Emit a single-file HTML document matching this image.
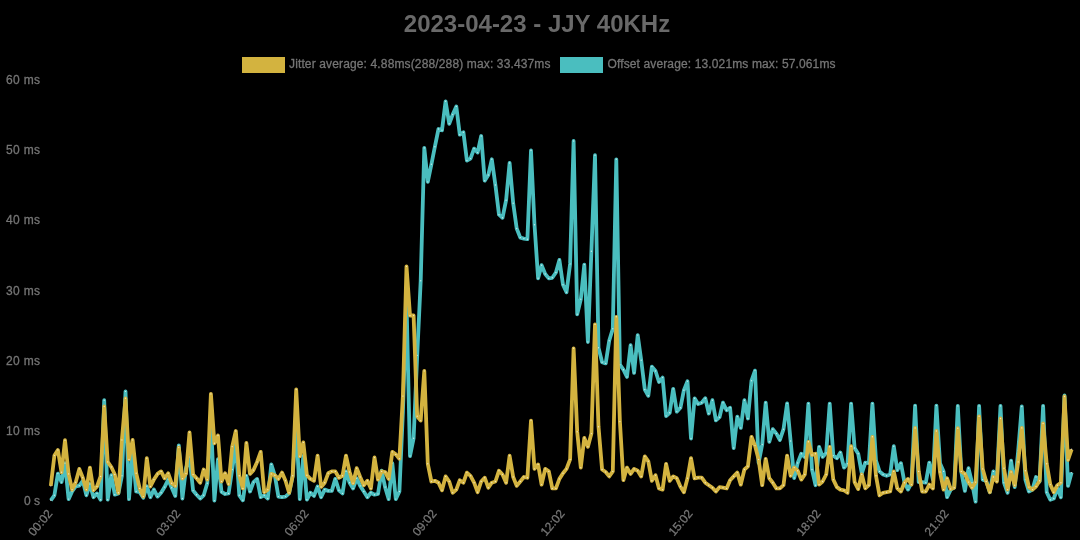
<!DOCTYPE html>
<html><head><meta charset="utf-8"><title>2023-04-23 - JJY 40KHz</title>
<style>html,body{margin:0;padding:0;background:#000;width:1080px;height:540px;overflow:hidden;font-family:"Liberation Sans",sans-serif}</style>
</head><body>
<svg width="1080" height="540" viewBox="0 0 1080 540" style="position:absolute;left:0;top:0;will-change:transform;opacity:0.999"><rect width="1080" height="540" fill="#000"/><text x="537" y="31.5" text-anchor="middle" font-family="Liberation Sans, sans-serif" font-weight="bold" font-size="24" fill="#6a6a6a">2023-04-23 - JJY 40KHz</text><rect x="242" y="57" width="43" height="16" fill="#d4b440"/><text x="289" y="68.3" font-family="Liberation Sans, sans-serif" font-size="12" fill="#767676" stroke="#767676" stroke-width="0.3" textLength="261.5" lengthAdjust="spacing">Jitter average: 4.88ms(288/288) max: 33.437ms</text><rect x="560" y="57" width="43" height="16" fill="#4bbfc0"/><text x="607.5" y="68.3" font-family="Liberation Sans, sans-serif" font-size="12" fill="#767676" stroke="#767676" stroke-width="0.3" textLength="228" lengthAdjust="spacing">Offset average: 13.021ms max: 57.061ms</text><text x="40" y="83.8" text-anchor="end" font-family="Liberation Sans, sans-serif" font-size="12" fill="#767676" stroke="#767676" stroke-width="0.3" textLength="34" lengthAdjust="spacing">60 ms</text><text x="40" y="154.3" text-anchor="end" font-family="Liberation Sans, sans-serif" font-size="12" fill="#767676" stroke="#767676" stroke-width="0.3" textLength="34" lengthAdjust="spacing">50 ms</text><text x="40" y="224.3" text-anchor="end" font-family="Liberation Sans, sans-serif" font-size="12" fill="#767676" stroke="#767676" stroke-width="0.3" textLength="34" lengthAdjust="spacing">40 ms</text><text x="40" y="294.8" text-anchor="end" font-family="Liberation Sans, sans-serif" font-size="12" fill="#767676" stroke="#767676" stroke-width="0.3" textLength="34" lengthAdjust="spacing">30 ms</text><text x="40" y="364.8" text-anchor="end" font-family="Liberation Sans, sans-serif" font-size="12" fill="#767676" stroke="#767676" stroke-width="0.3" textLength="34" lengthAdjust="spacing">20 ms</text><text x="40" y="435.3" text-anchor="end" font-family="Liberation Sans, sans-serif" font-size="12" fill="#767676" stroke="#767676" stroke-width="0.3" textLength="34" lengthAdjust="spacing">10 ms</text><text x="40" y="505.3" text-anchor="end" font-family="Liberation Sans, sans-serif" font-size="12" fill="#767676" stroke="#767676" stroke-width="0.3">0 s</text><text transform="translate(49.8,511.0) rotate(-50)" x="0" y="4.3" text-anchor="end" font-family="Liberation Sans, sans-serif" font-size="12" fill="#767676" stroke="#767676" stroke-width="0.3">00:02</text><text transform="translate(177.8,511.0) rotate(-50)" x="0" y="4.3" text-anchor="end" font-family="Liberation Sans, sans-serif" font-size="12" fill="#767676" stroke="#767676" stroke-width="0.3">03:02</text><text transform="translate(305.9,511.0) rotate(-50)" x="0" y="4.3" text-anchor="end" font-family="Liberation Sans, sans-serif" font-size="12" fill="#767676" stroke="#767676" stroke-width="0.3">06:02</text><text transform="translate(433.9,511.0) rotate(-50)" x="0" y="4.3" text-anchor="end" font-family="Liberation Sans, sans-serif" font-size="12" fill="#767676" stroke="#767676" stroke-width="0.3">09:02</text><text transform="translate(562.0,511.0) rotate(-50)" x="0" y="4.3" text-anchor="end" font-family="Liberation Sans, sans-serif" font-size="12" fill="#767676" stroke="#767676" stroke-width="0.3">12:02</text><text transform="translate(690.0,511.0) rotate(-50)" x="0" y="4.3" text-anchor="end" font-family="Liberation Sans, sans-serif" font-size="12" fill="#767676" stroke="#767676" stroke-width="0.3">15:02</text><text transform="translate(818.1,511.0) rotate(-50)" x="0" y="4.3" text-anchor="end" font-family="Liberation Sans, sans-serif" font-size="12" fill="#767676" stroke="#767676" stroke-width="0.3">18:02</text><text transform="translate(946.1,511.0) rotate(-50)" x="0" y="4.3" text-anchor="end" font-family="Liberation Sans, sans-serif" font-size="12" fill="#767676" stroke="#767676" stroke-width="0.3">21:02</text><path d="M50.8,500.3 L54.4,495.3 L57.9,473.6 L61.5,482.1 L65.0,463.2 L68.6,499.1 L72.1,491.5 L75.7,486.5 L79.3,485.6 L82.8,480.8 L86.4,495.3 L89.9,484.0 L93.5,497.2 L97.0,493.4 L100.6,499.7 L104.2,400.2 L107.7,499.7 L111.3,475.2 L114.8,494.7 L118.4,493.4 L121.9,475.8 L125.5,391.4 L129.0,499.1 L132.6,452.0 L136.2,491.5 L139.7,492.2 L143.3,497.8 L146.8,486.2 L150.4,497.2 L153.9,489.6 L157.5,496.6 L161.1,492.8 L164.6,487.1 L168.2,479.6 L171.7,487.7 L175.3,495.9 L178.8,445.5 L182.4,498.5 L186.0,468.2 L189.5,456.9 L193.1,490.6 L196.6,494.7 L200.2,498.5 L203.7,495.3 L207.3,483.3 L210.9,420.0 L214.4,500.6 L218.0,459.2 L221.5,491.9 L225.1,494.0 L228.6,493.4 L232.2,469.5 L235.8,444.3 L239.3,495.3 L242.9,500.3 L246.4,475.8 L250.0,491.5 L253.5,482.1 L257.1,478.9 L260.7,497.2 L264.2,495.3 L267.8,498.5 L271.3,464.4 L274.9,475.8 L278.4,496.6 L282.0,497.2 L285.5,496.6 L289.1,493.4 L292.7,475.8 L296.2,423.0 L299.8,499.1 L303.3,456.0 L306.9,499.7 L310.4,492.8 L314.0,495.9 L317.6,486.5 L321.1,497.2 L324.7,489.6 L328.2,490.9 L331.8,490.9 L335.3,478.9 L338.9,490.3 L342.5,493.4 L346.0,471.4 L349.6,482.7 L353.1,488.4 L356.7,478.3 L360.2,485.9 L363.8,491.5 L367.4,497.2 L370.9,492.8 L374.5,494.7 L378.0,494.0 L381.6,470.7 L385.1,487.1 L388.7,499.1 L392.3,463.2 L395.8,499.1 L399.4,491.5 L402.9,412.0 L406.5,300.0 L410.0,456.0 L413.6,438.3 L417.2,355.4 L420.7,280.8 L424.3,147.9 L427.8,181.9 L431.4,164.3 L434.9,146.7 L438.5,129.0 L442.0,130.3 L445.6,101.3 L449.2,123.8 L452.7,114.6 L456.3,106.4 L459.8,134.7 L463.4,132.2 L466.9,160.5 L470.5,158.6 L474.1,148.6 L477.6,152.6 L481.2,136.0 L484.7,180.7 L488.3,175.0 L491.8,159.3 L495.4,185.0 L499.0,214.7 L502.5,217.8 L506.1,200.2 L509.6,163.0 L513.2,203.3 L516.7,228.5 L520.3,237.6 L523.9,238.6 L527.4,239.2 L531.0,150.5 L534.5,224.7 L538.1,278.3 L541.6,265.2 L545.2,274.0 L548.8,278.4 L552.3,277.8 L555.9,272.5 L559.4,259.9 L563.0,284.7 L566.5,292.3 L570.1,263.9 L573.6,141.0 L577.2,314.3 L580.8,299.2 L584.3,264.6 L587.9,342.0 L591.4,251.3 L595.0,155.2 L598.5,347.7 L602.1,362.2 L605.7,363.4 L609.2,340.7 L612.8,328.8 L616.3,159.3 L619.9,364.7 L623.4,369.7 L627.0,376.9 L630.6,345.2 L634.1,372.9 L637.7,335.1 L641.2,360.3 L644.8,389.5 L648.3,395.8 L651.9,366.6 L655.5,371.0 L659.0,382.0 L662.6,377.6 L666.1,416.0 L669.7,412.8 L673.2,388.9 L676.8,411.6 L680.4,407.8 L683.9,390.2 L687.5,381.3 L691.0,438.5 L694.6,398.3 L698.1,404.0 L701.7,402.7 L705.3,398.3 L708.8,413.5 L712.4,400.2 L715.9,420.4 L719.5,417.2 L723.0,402.7 L726.6,410.3 L730.1,407.8 L733.7,448.0 L737.3,416.6 L740.8,427.9 L744.4,400.2 L747.9,418.5 L751.5,380.7 L755.0,370.6 L758.6,463.0 L762.2,444.5 L765.7,402.7 L769.3,441.8 L772.8,429.2 L776.4,433.6 L779.9,440.0 L783.5,429.2 L787.1,403.4 L790.6,441.0 L794.2,478.0 L797.7,463.0 L801.3,453.7 L804.8,457.0 L808.4,403.6 L812.0,469.5 L815.5,485.2 L819.1,446.8 L822.6,456.9 L826.2,453.0 L829.7,403.6 L833.3,455.6 L836.9,458.2 L840.4,452.5 L844.0,467.6 L847.5,463.8 L851.1,403.6 L854.6,448.0 L858.2,453.7 L861.8,473.3 L865.3,462.6 L868.9,463.2 L872.4,403.6 L876.0,460.7 L879.5,471.4 L883.1,474.5 L886.6,475.8 L890.2,474.5 L893.8,446.2 L897.3,470.1 L900.9,463.2 L904.4,482.1 L908.0,489.6 L911.5,482.7 L915.1,405.6 L918.7,482.1 L922.2,482.1 L925.8,482.7 L929.3,462.6 L932.9,479.6 L936.4,405.6 L940.0,463.2 L943.6,471.4 L947.1,497.2 L950.7,489.6 L954.2,487.7 L957.8,405.9 L961.3,472.0 L964.9,490.9 L968.5,468.2 L972.0,482.7 L975.6,501.6 L979.1,405.9 L982.7,479.6 L986.2,480.8 L989.8,492.2 L993.4,471.4 L996.9,480.2 L1000.5,405.9 L1004.0,482.7 L1007.6,492.8 L1011.1,460.7 L1014.7,487.1 L1018.2,450.6 L1021.8,406.5 L1025.4,479.6 L1028.9,491.5 L1032.5,489.6 L1036.0,477.0 L1039.6,481.5 L1043.1,405.9 L1046.7,492.2 L1050.3,499.7 L1053.8,498.5 L1057.4,488.4 L1060.9,497.2 L1064.5,395.4 L1068.0,485.9 L1071.6,472.6" fill="none" stroke="#4bbfc0" stroke-width="3.8" stroke-linejoin="round" stroke-linecap="butt"/><g fill="#e6f7f7" opacity="0.8"><circle cx="50.8" cy="500.3" r="0.7"/><circle cx="54.4" cy="495.3" r="0.7"/><circle cx="57.9" cy="473.6" r="0.7"/><circle cx="61.5" cy="482.1" r="0.7"/><circle cx="65.0" cy="463.2" r="0.7"/><circle cx="68.6" cy="499.1" r="0.7"/><circle cx="72.1" cy="491.5" r="0.7"/><circle cx="75.7" cy="486.5" r="0.7"/><circle cx="79.3" cy="485.6" r="0.7"/><circle cx="82.8" cy="480.8" r="0.7"/><circle cx="86.4" cy="495.3" r="0.7"/><circle cx="89.9" cy="484.0" r="0.7"/><circle cx="93.5" cy="497.2" r="0.7"/><circle cx="97.0" cy="493.4" r="0.7"/><circle cx="100.6" cy="499.7" r="0.7"/><circle cx="104.2" cy="400.2" r="0.7"/><circle cx="107.7" cy="499.7" r="0.7"/><circle cx="111.3" cy="475.2" r="0.7"/><circle cx="114.8" cy="494.7" r="0.7"/><circle cx="118.4" cy="493.4" r="0.7"/><circle cx="121.9" cy="475.8" r="0.7"/><circle cx="125.5" cy="391.4" r="0.7"/><circle cx="129.0" cy="499.1" r="0.7"/><circle cx="132.6" cy="452.0" r="0.7"/><circle cx="136.2" cy="491.5" r="0.7"/><circle cx="139.7" cy="492.2" r="0.7"/><circle cx="143.3" cy="497.8" r="0.7"/><circle cx="146.8" cy="486.2" r="0.7"/><circle cx="150.4" cy="497.2" r="0.7"/><circle cx="153.9" cy="489.6" r="0.7"/><circle cx="157.5" cy="496.6" r="0.7"/><circle cx="161.1" cy="492.8" r="0.7"/><circle cx="164.6" cy="487.1" r="0.7"/><circle cx="168.2" cy="479.6" r="0.7"/><circle cx="171.7" cy="487.7" r="0.7"/><circle cx="175.3" cy="495.9" r="0.7"/><circle cx="178.8" cy="445.5" r="0.7"/><circle cx="182.4" cy="498.5" r="0.7"/><circle cx="186.0" cy="468.2" r="0.7"/><circle cx="189.5" cy="456.9" r="0.7"/><circle cx="193.1" cy="490.6" r="0.7"/><circle cx="196.6" cy="494.7" r="0.7"/><circle cx="200.2" cy="498.5" r="0.7"/><circle cx="203.7" cy="495.3" r="0.7"/><circle cx="207.3" cy="483.3" r="0.7"/><circle cx="210.9" cy="420.0" r="0.7"/><circle cx="214.4" cy="500.6" r="0.7"/><circle cx="218.0" cy="459.2" r="0.7"/><circle cx="221.5" cy="491.9" r="0.7"/><circle cx="225.1" cy="494.0" r="0.7"/><circle cx="228.6" cy="493.4" r="0.7"/><circle cx="232.2" cy="469.5" r="0.7"/><circle cx="235.8" cy="444.3" r="0.7"/><circle cx="239.3" cy="495.3" r="0.7"/><circle cx="242.9" cy="500.3" r="0.7"/><circle cx="246.4" cy="475.8" r="0.7"/><circle cx="250.0" cy="491.5" r="0.7"/><circle cx="253.5" cy="482.1" r="0.7"/><circle cx="257.1" cy="478.9" r="0.7"/><circle cx="260.7" cy="497.2" r="0.7"/><circle cx="264.2" cy="495.3" r="0.7"/><circle cx="267.8" cy="498.5" r="0.7"/><circle cx="271.3" cy="464.4" r="0.7"/><circle cx="274.9" cy="475.8" r="0.7"/><circle cx="278.4" cy="496.6" r="0.7"/><circle cx="282.0" cy="497.2" r="0.7"/><circle cx="285.5" cy="496.6" r="0.7"/><circle cx="289.1" cy="493.4" r="0.7"/><circle cx="292.7" cy="475.8" r="0.7"/><circle cx="296.2" cy="423.0" r="0.7"/><circle cx="299.8" cy="499.1" r="0.7"/><circle cx="303.3" cy="456.0" r="0.7"/><circle cx="306.9" cy="499.7" r="0.7"/><circle cx="310.4" cy="492.8" r="0.7"/><circle cx="314.0" cy="495.9" r="0.7"/><circle cx="317.6" cy="486.5" r="0.7"/><circle cx="321.1" cy="497.2" r="0.7"/><circle cx="324.7" cy="489.6" r="0.7"/><circle cx="328.2" cy="490.9" r="0.7"/><circle cx="331.8" cy="490.9" r="0.7"/><circle cx="335.3" cy="478.9" r="0.7"/><circle cx="338.9" cy="490.3" r="0.7"/><circle cx="342.5" cy="493.4" r="0.7"/><circle cx="346.0" cy="471.4" r="0.7"/><circle cx="349.6" cy="482.7" r="0.7"/><circle cx="353.1" cy="488.4" r="0.7"/><circle cx="356.7" cy="478.3" r="0.7"/><circle cx="360.2" cy="485.9" r="0.7"/><circle cx="363.8" cy="491.5" r="0.7"/><circle cx="367.4" cy="497.2" r="0.7"/><circle cx="370.9" cy="492.8" r="0.7"/><circle cx="374.5" cy="494.7" r="0.7"/><circle cx="378.0" cy="494.0" r="0.7"/><circle cx="381.6" cy="470.7" r="0.7"/><circle cx="385.1" cy="487.1" r="0.7"/><circle cx="388.7" cy="499.1" r="0.7"/><circle cx="392.3" cy="463.2" r="0.7"/><circle cx="395.8" cy="499.1" r="0.7"/><circle cx="399.4" cy="491.5" r="0.7"/><circle cx="402.9" cy="412.0" r="0.7"/><circle cx="406.5" cy="300.0" r="0.7"/><circle cx="410.0" cy="456.0" r="0.7"/><circle cx="413.6" cy="438.3" r="0.7"/><circle cx="417.2" cy="355.4" r="0.7"/><circle cx="420.7" cy="280.8" r="0.7"/><circle cx="424.3" cy="147.9" r="0.7"/><circle cx="427.8" cy="181.9" r="0.7"/><circle cx="431.4" cy="164.3" r="0.7"/><circle cx="434.9" cy="146.7" r="0.7"/><circle cx="438.5" cy="129.0" r="0.7"/><circle cx="442.0" cy="130.3" r="0.7"/><circle cx="445.6" cy="101.3" r="0.7"/><circle cx="449.2" cy="123.8" r="0.7"/><circle cx="452.7" cy="114.6" r="0.7"/><circle cx="456.3" cy="106.4" r="0.7"/><circle cx="459.8" cy="134.7" r="0.7"/><circle cx="463.4" cy="132.2" r="0.7"/><circle cx="466.9" cy="160.5" r="0.7"/><circle cx="470.5" cy="158.6" r="0.7"/><circle cx="474.1" cy="148.6" r="0.7"/><circle cx="477.6" cy="152.6" r="0.7"/><circle cx="481.2" cy="136.0" r="0.7"/><circle cx="484.7" cy="180.7" r="0.7"/><circle cx="488.3" cy="175.0" r="0.7"/><circle cx="491.8" cy="159.3" r="0.7"/><circle cx="495.4" cy="185.0" r="0.7"/><circle cx="499.0" cy="214.7" r="0.7"/><circle cx="502.5" cy="217.8" r="0.7"/><circle cx="506.1" cy="200.2" r="0.7"/><circle cx="509.6" cy="163.0" r="0.7"/><circle cx="513.2" cy="203.3" r="0.7"/><circle cx="516.7" cy="228.5" r="0.7"/><circle cx="520.3" cy="237.6" r="0.7"/><circle cx="523.9" cy="238.6" r="0.7"/><circle cx="527.4" cy="239.2" r="0.7"/><circle cx="531.0" cy="150.5" r="0.7"/><circle cx="534.5" cy="224.7" r="0.7"/><circle cx="538.1" cy="278.3" r="0.7"/><circle cx="541.6" cy="265.2" r="0.7"/><circle cx="545.2" cy="274.0" r="0.7"/><circle cx="548.8" cy="278.4" r="0.7"/><circle cx="552.3" cy="277.8" r="0.7"/><circle cx="555.9" cy="272.5" r="0.7"/><circle cx="559.4" cy="259.9" r="0.7"/><circle cx="563.0" cy="284.7" r="0.7"/><circle cx="566.5" cy="292.3" r="0.7"/><circle cx="570.1" cy="263.9" r="0.7"/><circle cx="573.6" cy="141.0" r="0.7"/><circle cx="577.2" cy="314.3" r="0.7"/><circle cx="580.8" cy="299.2" r="0.7"/><circle cx="584.3" cy="264.6" r="0.7"/><circle cx="587.9" cy="342.0" r="0.7"/><circle cx="591.4" cy="251.3" r="0.7"/><circle cx="595.0" cy="155.2" r="0.7"/><circle cx="598.5" cy="347.7" r="0.7"/><circle cx="602.1" cy="362.2" r="0.7"/><circle cx="605.7" cy="363.4" r="0.7"/><circle cx="609.2" cy="340.7" r="0.7"/><circle cx="612.8" cy="328.8" r="0.7"/><circle cx="616.3" cy="159.3" r="0.7"/><circle cx="619.9" cy="364.7" r="0.7"/><circle cx="623.4" cy="369.7" r="0.7"/><circle cx="627.0" cy="376.9" r="0.7"/><circle cx="630.6" cy="345.2" r="0.7"/><circle cx="634.1" cy="372.9" r="0.7"/><circle cx="637.7" cy="335.1" r="0.7"/><circle cx="641.2" cy="360.3" r="0.7"/><circle cx="644.8" cy="389.5" r="0.7"/><circle cx="648.3" cy="395.8" r="0.7"/><circle cx="651.9" cy="366.6" r="0.7"/><circle cx="655.5" cy="371.0" r="0.7"/><circle cx="659.0" cy="382.0" r="0.7"/><circle cx="662.6" cy="377.6" r="0.7"/><circle cx="666.1" cy="416.0" r="0.7"/><circle cx="669.7" cy="412.8" r="0.7"/><circle cx="673.2" cy="388.9" r="0.7"/><circle cx="676.8" cy="411.6" r="0.7"/><circle cx="680.4" cy="407.8" r="0.7"/><circle cx="683.9" cy="390.2" r="0.7"/><circle cx="687.5" cy="381.3" r="0.7"/><circle cx="691.0" cy="438.5" r="0.7"/><circle cx="694.6" cy="398.3" r="0.7"/><circle cx="698.1" cy="404.0" r="0.7"/><circle cx="701.7" cy="402.7" r="0.7"/><circle cx="705.3" cy="398.3" r="0.7"/><circle cx="708.8" cy="413.5" r="0.7"/><circle cx="712.4" cy="400.2" r="0.7"/><circle cx="715.9" cy="420.4" r="0.7"/><circle cx="719.5" cy="417.2" r="0.7"/><circle cx="723.0" cy="402.7" r="0.7"/><circle cx="726.6" cy="410.3" r="0.7"/><circle cx="730.1" cy="407.8" r="0.7"/><circle cx="733.7" cy="448.0" r="0.7"/><circle cx="737.3" cy="416.6" r="0.7"/><circle cx="740.8" cy="427.9" r="0.7"/><circle cx="744.4" cy="400.2" r="0.7"/><circle cx="747.9" cy="418.5" r="0.7"/><circle cx="751.5" cy="380.7" r="0.7"/><circle cx="755.0" cy="370.6" r="0.7"/><circle cx="758.6" cy="463.0" r="0.7"/><circle cx="762.2" cy="444.5" r="0.7"/><circle cx="765.7" cy="402.7" r="0.7"/><circle cx="769.3" cy="441.8" r="0.7"/><circle cx="772.8" cy="429.2" r="0.7"/><circle cx="776.4" cy="433.6" r="0.7"/><circle cx="779.9" cy="440.0" r="0.7"/><circle cx="783.5" cy="429.2" r="0.7"/><circle cx="787.1" cy="403.4" r="0.7"/><circle cx="790.6" cy="441.0" r="0.7"/><circle cx="794.2" cy="478.0" r="0.7"/><circle cx="797.7" cy="463.0" r="0.7"/><circle cx="801.3" cy="453.7" r="0.7"/><circle cx="804.8" cy="457.0" r="0.7"/><circle cx="808.4" cy="403.6" r="0.7"/><circle cx="812.0" cy="469.5" r="0.7"/><circle cx="815.5" cy="485.2" r="0.7"/><circle cx="819.1" cy="446.8" r="0.7"/><circle cx="822.6" cy="456.9" r="0.7"/><circle cx="826.2" cy="453.0" r="0.7"/><circle cx="829.7" cy="403.6" r="0.7"/><circle cx="833.3" cy="455.6" r="0.7"/><circle cx="836.9" cy="458.2" r="0.7"/><circle cx="840.4" cy="452.5" r="0.7"/><circle cx="844.0" cy="467.6" r="0.7"/><circle cx="847.5" cy="463.8" r="0.7"/><circle cx="851.1" cy="403.6" r="0.7"/><circle cx="854.6" cy="448.0" r="0.7"/><circle cx="858.2" cy="453.7" r="0.7"/><circle cx="861.8" cy="473.3" r="0.7"/><circle cx="865.3" cy="462.6" r="0.7"/><circle cx="868.9" cy="463.2" r="0.7"/><circle cx="872.4" cy="403.6" r="0.7"/><circle cx="876.0" cy="460.7" r="0.7"/><circle cx="879.5" cy="471.4" r="0.7"/><circle cx="883.1" cy="474.5" r="0.7"/><circle cx="886.6" cy="475.8" r="0.7"/><circle cx="890.2" cy="474.5" r="0.7"/><circle cx="893.8" cy="446.2" r="0.7"/><circle cx="897.3" cy="470.1" r="0.7"/><circle cx="900.9" cy="463.2" r="0.7"/><circle cx="904.4" cy="482.1" r="0.7"/><circle cx="908.0" cy="489.6" r="0.7"/><circle cx="911.5" cy="482.7" r="0.7"/><circle cx="915.1" cy="405.6" r="0.7"/><circle cx="918.7" cy="482.1" r="0.7"/><circle cx="922.2" cy="482.1" r="0.7"/><circle cx="925.8" cy="482.7" r="0.7"/><circle cx="929.3" cy="462.6" r="0.7"/><circle cx="932.9" cy="479.6" r="0.7"/><circle cx="936.4" cy="405.6" r="0.7"/><circle cx="940.0" cy="463.2" r="0.7"/><circle cx="943.6" cy="471.4" r="0.7"/><circle cx="947.1" cy="497.2" r="0.7"/><circle cx="950.7" cy="489.6" r="0.7"/><circle cx="954.2" cy="487.7" r="0.7"/><circle cx="957.8" cy="405.9" r="0.7"/><circle cx="961.3" cy="472.0" r="0.7"/><circle cx="964.9" cy="490.9" r="0.7"/><circle cx="968.5" cy="468.2" r="0.7"/><circle cx="972.0" cy="482.7" r="0.7"/><circle cx="975.6" cy="501.6" r="0.7"/><circle cx="979.1" cy="405.9" r="0.7"/><circle cx="982.7" cy="479.6" r="0.7"/><circle cx="986.2" cy="480.8" r="0.7"/><circle cx="989.8" cy="492.2" r="0.7"/><circle cx="993.4" cy="471.4" r="0.7"/><circle cx="996.9" cy="480.2" r="0.7"/><circle cx="1000.5" cy="405.9" r="0.7"/><circle cx="1004.0" cy="482.7" r="0.7"/><circle cx="1007.6" cy="492.8" r="0.7"/><circle cx="1011.1" cy="460.7" r="0.7"/><circle cx="1014.7" cy="487.1" r="0.7"/><circle cx="1018.2" cy="450.6" r="0.7"/><circle cx="1021.8" cy="406.5" r="0.7"/><circle cx="1025.4" cy="479.6" r="0.7"/><circle cx="1028.9" cy="491.5" r="0.7"/><circle cx="1032.5" cy="489.6" r="0.7"/><circle cx="1036.0" cy="477.0" r="0.7"/><circle cx="1039.6" cy="481.5" r="0.7"/><circle cx="1043.1" cy="405.9" r="0.7"/><circle cx="1046.7" cy="492.2" r="0.7"/><circle cx="1050.3" cy="499.7" r="0.7"/><circle cx="1053.8" cy="498.5" r="0.7"/><circle cx="1057.4" cy="488.4" r="0.7"/><circle cx="1060.9" cy="497.2" r="0.7"/><circle cx="1064.5" cy="395.4" r="0.7"/><circle cx="1068.0" cy="485.9" r="0.7"/><circle cx="1071.6" cy="472.6" r="0.7"/></g><path d="M50.8,485.9 L54.4,455.6 L57.9,450.0 L61.5,472.3 L65.0,440.2 L68.6,473.9 L72.1,489.6 L75.7,482.3 L79.3,468.9 L82.8,477.7 L86.4,489.6 L89.9,467.6 L93.5,490.3 L97.0,486.5 L100.6,476.4 L104.2,406.5 L107.7,461.9 L111.3,467.0 L114.8,474.5 L118.4,492.8 L121.9,439.9 L125.5,398.3 L129.0,459.4 L132.6,439.9 L136.2,473.3 L139.7,488.4 L143.3,496.6 L146.8,458.2 L150.4,486.5 L153.9,479.6 L157.5,473.9 L161.1,471.4 L164.6,478.3 L168.2,473.3 L171.7,483.3 L175.3,485.9 L178.8,447.6 L182.4,478.6 L186.0,473.6 L189.5,432.3 L193.1,474.5 L196.6,478.3 L200.2,482.7 L203.7,469.5 L207.3,479.6 L210.9,393.9 L214.4,443.3 L218.0,435.5 L221.5,481.5 L225.1,473.3 L228.6,484.0 L232.2,446.6 L235.8,431.0 L239.3,475.8 L242.9,488.4 L246.4,443.0 L250.0,473.9 L253.5,470.1 L257.1,461.9 L260.7,451.9 L264.2,492.2 L267.8,489.6 L271.3,473.9 L274.9,475.2 L278.4,478.9 L282.0,472.6 L285.5,480.8 L289.1,492.8 L292.7,475.8 L296.2,389.5 L299.8,456.3 L303.3,442.4 L306.9,475.2 L310.4,478.9 L314.0,480.8 L317.6,455.6 L321.1,486.9 L324.7,482.7 L328.2,473.3 L331.8,471.4 L335.3,471.4 L338.9,477.7 L342.5,475.8 L346.0,455.6 L349.6,472.0 L353.1,483.3 L356.7,468.2 L360.2,477.0 L363.8,485.2 L367.4,480.8 L370.9,488.4 L374.5,457.5 L378.0,479.6 L381.6,471.4 L385.1,472.0 L388.7,478.9 L392.3,451.9 L395.8,454.4 L399.4,458.8 L402.9,396.1 L406.5,266.4 L410.0,315.5 L413.6,315.5 L417.2,416.2 L420.7,420.6 L424.3,370.9 L427.8,463.8 L431.4,481.5 L434.9,480.8 L438.5,482.7 L442.0,490.3 L445.6,476.4 L449.2,481.5 L452.7,492.8 L456.3,489.6 L459.8,480.2 L463.4,482.7 L466.9,472.6 L470.5,475.8 L474.1,482.7 L477.6,492.2 L481.2,481.5 L484.7,477.7 L488.3,487.7 L491.8,482.7 L495.4,481.5 L499.0,470.7 L502.5,474.5 L506.1,482.7 L509.6,455.7 L513.2,477.0 L516.7,485.9 L520.3,481.5 L523.9,477.0 L527.4,477.7 L531.0,420.6 L534.5,468.9 L538.1,464.4 L541.6,484.6 L545.2,468.9 L548.8,471.4 L552.3,488.4 L555.9,488.4 L559.4,478.9 L563.0,473.3 L566.5,468.9 L570.1,459.4 L573.6,348.3 L577.2,431.7 L580.8,467.6 L584.3,438.0 L587.9,446.8 L591.4,433.6 L595.0,324.4 L598.5,426.7 L602.1,469.5 L605.7,472.0 L609.2,476.4 L612.8,471.4 L616.3,316.8 L619.9,421.6 L623.4,480.2 L627.0,467.6 L630.6,473.9 L634.1,468.9 L637.7,470.7 L641.2,476.4 L644.8,456.3 L648.3,461.3 L651.9,480.8 L655.5,475.2 L659.0,488.4 L662.6,489.6 L666.1,463.8 L669.7,480.8 L673.2,476.4 L676.8,478.3 L680.4,486.5 L683.9,492.2 L687.5,478.3 L691.0,458.2 L694.6,478.3 L698.1,477.7 L701.7,477.7 L705.3,482.7 L708.8,485.2 L712.4,487.7 L715.9,491.5 L719.5,487.1 L723.0,487.7 L726.6,488.4 L730.1,480.2 L733.7,476.4 L737.3,472.6 L740.8,484.6 L744.4,469.5 L747.9,466.3 L751.5,436.8 L755.0,445.6 L758.6,459.4 L762.2,485.2 L765.7,458.8 L769.3,478.3 L772.8,482.7 L776.4,488.4 L779.9,488.4 L783.5,485.2 L787.1,455.6 L790.6,475.8 L794.2,467.6 L797.7,470.7 L801.3,479.6 L804.8,474.5 L808.4,441.8 L812.0,455.0 L815.5,453.7 L819.1,484.6 L822.6,481.5 L826.2,474.5 L829.7,446.8 L833.3,479.6 L836.9,487.1 L840.4,489.6 L844.0,490.3 L847.5,492.8 L851.1,446.2 L854.6,482.1 L858.2,489.0 L861.8,474.5 L865.3,488.4 L868.9,485.2 L872.4,436.8 L876.0,475.8 L879.5,495.3 L883.1,492.8 L886.6,492.2 L890.2,491.5 L893.8,471.4 L897.3,488.4 L900.9,491.5 L904.4,482.7 L908.0,478.9 L911.5,484.6 L915.1,428.0 L918.7,471.4 L922.2,491.5 L925.8,491.5 L929.3,484.6 L932.9,488.4 L936.4,431.0 L940.0,472.0 L943.6,489.6 L947.1,478.3 L950.7,489.0 L954.2,487.7 L957.8,428.2 L961.3,471.4 L964.9,473.9 L968.5,482.1 L972.0,487.7 L975.6,482.1 L979.1,416.3 L982.7,468.9 L986.2,481.5 L989.8,492.2 L993.4,477.0 L996.9,481.5 L1000.5,418.5 L1004.0,468.2 L1007.6,489.6 L1011.1,472.0 L1014.7,485.2 L1018.2,461.9 L1021.8,427.9 L1025.4,470.7 L1028.9,487.1 L1032.5,489.6 L1036.0,486.5 L1039.6,480.8 L1043.1,423.5 L1046.7,463.8 L1050.3,484.6 L1053.8,492.2 L1057.4,485.2 L1060.9,482.7 L1064.5,396.5 L1068.0,460.0 L1071.6,449.3" fill="none" stroke="#d4b440" stroke-width="3.8" stroke-linejoin="round" stroke-linecap="butt"/><g fill="#fbf3dc" opacity="0.8"><circle cx="50.8" cy="485.9" r="0.7"/><circle cx="54.4" cy="455.6" r="0.7"/><circle cx="57.9" cy="450.0" r="0.7"/><circle cx="61.5" cy="472.3" r="0.7"/><circle cx="65.0" cy="440.2" r="0.7"/><circle cx="68.6" cy="473.9" r="0.7"/><circle cx="72.1" cy="489.6" r="0.7"/><circle cx="75.7" cy="482.3" r="0.7"/><circle cx="79.3" cy="468.9" r="0.7"/><circle cx="82.8" cy="477.7" r="0.7"/><circle cx="86.4" cy="489.6" r="0.7"/><circle cx="89.9" cy="467.6" r="0.7"/><circle cx="93.5" cy="490.3" r="0.7"/><circle cx="97.0" cy="486.5" r="0.7"/><circle cx="100.6" cy="476.4" r="0.7"/><circle cx="104.2" cy="406.5" r="0.7"/><circle cx="107.7" cy="461.9" r="0.7"/><circle cx="111.3" cy="467.0" r="0.7"/><circle cx="114.8" cy="474.5" r="0.7"/><circle cx="118.4" cy="492.8" r="0.7"/><circle cx="121.9" cy="439.9" r="0.7"/><circle cx="125.5" cy="398.3" r="0.7"/><circle cx="129.0" cy="459.4" r="0.7"/><circle cx="132.6" cy="439.9" r="0.7"/><circle cx="136.2" cy="473.3" r="0.7"/><circle cx="139.7" cy="488.4" r="0.7"/><circle cx="143.3" cy="496.6" r="0.7"/><circle cx="146.8" cy="458.2" r="0.7"/><circle cx="150.4" cy="486.5" r="0.7"/><circle cx="153.9" cy="479.6" r="0.7"/><circle cx="157.5" cy="473.9" r="0.7"/><circle cx="161.1" cy="471.4" r="0.7"/><circle cx="164.6" cy="478.3" r="0.7"/><circle cx="168.2" cy="473.3" r="0.7"/><circle cx="171.7" cy="483.3" r="0.7"/><circle cx="175.3" cy="485.9" r="0.7"/><circle cx="178.8" cy="447.6" r="0.7"/><circle cx="182.4" cy="478.6" r="0.7"/><circle cx="186.0" cy="473.6" r="0.7"/><circle cx="189.5" cy="432.3" r="0.7"/><circle cx="193.1" cy="474.5" r="0.7"/><circle cx="196.6" cy="478.3" r="0.7"/><circle cx="200.2" cy="482.7" r="0.7"/><circle cx="203.7" cy="469.5" r="0.7"/><circle cx="207.3" cy="479.6" r="0.7"/><circle cx="210.9" cy="393.9" r="0.7"/><circle cx="214.4" cy="443.3" r="0.7"/><circle cx="218.0" cy="435.5" r="0.7"/><circle cx="221.5" cy="481.5" r="0.7"/><circle cx="225.1" cy="473.3" r="0.7"/><circle cx="228.6" cy="484.0" r="0.7"/><circle cx="232.2" cy="446.6" r="0.7"/><circle cx="235.8" cy="431.0" r="0.7"/><circle cx="239.3" cy="475.8" r="0.7"/><circle cx="242.9" cy="488.4" r="0.7"/><circle cx="246.4" cy="443.0" r="0.7"/><circle cx="250.0" cy="473.9" r="0.7"/><circle cx="253.5" cy="470.1" r="0.7"/><circle cx="257.1" cy="461.9" r="0.7"/><circle cx="260.7" cy="451.9" r="0.7"/><circle cx="264.2" cy="492.2" r="0.7"/><circle cx="267.8" cy="489.6" r="0.7"/><circle cx="271.3" cy="473.9" r="0.7"/><circle cx="274.9" cy="475.2" r="0.7"/><circle cx="278.4" cy="478.9" r="0.7"/><circle cx="282.0" cy="472.6" r="0.7"/><circle cx="285.5" cy="480.8" r="0.7"/><circle cx="289.1" cy="492.8" r="0.7"/><circle cx="292.7" cy="475.8" r="0.7"/><circle cx="296.2" cy="389.5" r="0.7"/><circle cx="299.8" cy="456.3" r="0.7"/><circle cx="303.3" cy="442.4" r="0.7"/><circle cx="306.9" cy="475.2" r="0.7"/><circle cx="310.4" cy="478.9" r="0.7"/><circle cx="314.0" cy="480.8" r="0.7"/><circle cx="317.6" cy="455.6" r="0.7"/><circle cx="321.1" cy="486.9" r="0.7"/><circle cx="324.7" cy="482.7" r="0.7"/><circle cx="328.2" cy="473.3" r="0.7"/><circle cx="331.8" cy="471.4" r="0.7"/><circle cx="335.3" cy="471.4" r="0.7"/><circle cx="338.9" cy="477.7" r="0.7"/><circle cx="342.5" cy="475.8" r="0.7"/><circle cx="346.0" cy="455.6" r="0.7"/><circle cx="349.6" cy="472.0" r="0.7"/><circle cx="353.1" cy="483.3" r="0.7"/><circle cx="356.7" cy="468.2" r="0.7"/><circle cx="360.2" cy="477.0" r="0.7"/><circle cx="363.8" cy="485.2" r="0.7"/><circle cx="367.4" cy="480.8" r="0.7"/><circle cx="370.9" cy="488.4" r="0.7"/><circle cx="374.5" cy="457.5" r="0.7"/><circle cx="378.0" cy="479.6" r="0.7"/><circle cx="381.6" cy="471.4" r="0.7"/><circle cx="385.1" cy="472.0" r="0.7"/><circle cx="388.7" cy="478.9" r="0.7"/><circle cx="392.3" cy="451.9" r="0.7"/><circle cx="395.8" cy="454.4" r="0.7"/><circle cx="399.4" cy="458.8" r="0.7"/><circle cx="402.9" cy="396.1" r="0.7"/><circle cx="406.5" cy="266.4" r="0.7"/><circle cx="410.0" cy="315.5" r="0.7"/><circle cx="413.6" cy="315.5" r="0.7"/><circle cx="417.2" cy="416.2" r="0.7"/><circle cx="420.7" cy="420.6" r="0.7"/><circle cx="424.3" cy="370.9" r="0.7"/><circle cx="427.8" cy="463.8" r="0.7"/><circle cx="431.4" cy="481.5" r="0.7"/><circle cx="434.9" cy="480.8" r="0.7"/><circle cx="438.5" cy="482.7" r="0.7"/><circle cx="442.0" cy="490.3" r="0.7"/><circle cx="445.6" cy="476.4" r="0.7"/><circle cx="449.2" cy="481.5" r="0.7"/><circle cx="452.7" cy="492.8" r="0.7"/><circle cx="456.3" cy="489.6" r="0.7"/><circle cx="459.8" cy="480.2" r="0.7"/><circle cx="463.4" cy="482.7" r="0.7"/><circle cx="466.9" cy="472.6" r="0.7"/><circle cx="470.5" cy="475.8" r="0.7"/><circle cx="474.1" cy="482.7" r="0.7"/><circle cx="477.6" cy="492.2" r="0.7"/><circle cx="481.2" cy="481.5" r="0.7"/><circle cx="484.7" cy="477.7" r="0.7"/><circle cx="488.3" cy="487.7" r="0.7"/><circle cx="491.8" cy="482.7" r="0.7"/><circle cx="495.4" cy="481.5" r="0.7"/><circle cx="499.0" cy="470.7" r="0.7"/><circle cx="502.5" cy="474.5" r="0.7"/><circle cx="506.1" cy="482.7" r="0.7"/><circle cx="509.6" cy="455.7" r="0.7"/><circle cx="513.2" cy="477.0" r="0.7"/><circle cx="516.7" cy="485.9" r="0.7"/><circle cx="520.3" cy="481.5" r="0.7"/><circle cx="523.9" cy="477.0" r="0.7"/><circle cx="527.4" cy="477.7" r="0.7"/><circle cx="531.0" cy="420.6" r="0.7"/><circle cx="534.5" cy="468.9" r="0.7"/><circle cx="538.1" cy="464.4" r="0.7"/><circle cx="541.6" cy="484.6" r="0.7"/><circle cx="545.2" cy="468.9" r="0.7"/><circle cx="548.8" cy="471.4" r="0.7"/><circle cx="552.3" cy="488.4" r="0.7"/><circle cx="555.9" cy="488.4" r="0.7"/><circle cx="559.4" cy="478.9" r="0.7"/><circle cx="563.0" cy="473.3" r="0.7"/><circle cx="566.5" cy="468.9" r="0.7"/><circle cx="570.1" cy="459.4" r="0.7"/><circle cx="573.6" cy="348.3" r="0.7"/><circle cx="577.2" cy="431.7" r="0.7"/><circle cx="580.8" cy="467.6" r="0.7"/><circle cx="584.3" cy="438.0" r="0.7"/><circle cx="587.9" cy="446.8" r="0.7"/><circle cx="591.4" cy="433.6" r="0.7"/><circle cx="595.0" cy="324.4" r="0.7"/><circle cx="598.5" cy="426.7" r="0.7"/><circle cx="602.1" cy="469.5" r="0.7"/><circle cx="605.7" cy="472.0" r="0.7"/><circle cx="609.2" cy="476.4" r="0.7"/><circle cx="612.8" cy="471.4" r="0.7"/><circle cx="616.3" cy="316.8" r="0.7"/><circle cx="619.9" cy="421.6" r="0.7"/><circle cx="623.4" cy="480.2" r="0.7"/><circle cx="627.0" cy="467.6" r="0.7"/><circle cx="630.6" cy="473.9" r="0.7"/><circle cx="634.1" cy="468.9" r="0.7"/><circle cx="637.7" cy="470.7" r="0.7"/><circle cx="641.2" cy="476.4" r="0.7"/><circle cx="644.8" cy="456.3" r="0.7"/><circle cx="648.3" cy="461.3" r="0.7"/><circle cx="651.9" cy="480.8" r="0.7"/><circle cx="655.5" cy="475.2" r="0.7"/><circle cx="659.0" cy="488.4" r="0.7"/><circle cx="662.6" cy="489.6" r="0.7"/><circle cx="666.1" cy="463.8" r="0.7"/><circle cx="669.7" cy="480.8" r="0.7"/><circle cx="673.2" cy="476.4" r="0.7"/><circle cx="676.8" cy="478.3" r="0.7"/><circle cx="680.4" cy="486.5" r="0.7"/><circle cx="683.9" cy="492.2" r="0.7"/><circle cx="687.5" cy="478.3" r="0.7"/><circle cx="691.0" cy="458.2" r="0.7"/><circle cx="694.6" cy="478.3" r="0.7"/><circle cx="698.1" cy="477.7" r="0.7"/><circle cx="701.7" cy="477.7" r="0.7"/><circle cx="705.3" cy="482.7" r="0.7"/><circle cx="708.8" cy="485.2" r="0.7"/><circle cx="712.4" cy="487.7" r="0.7"/><circle cx="715.9" cy="491.5" r="0.7"/><circle cx="719.5" cy="487.1" r="0.7"/><circle cx="723.0" cy="487.7" r="0.7"/><circle cx="726.6" cy="488.4" r="0.7"/><circle cx="730.1" cy="480.2" r="0.7"/><circle cx="733.7" cy="476.4" r="0.7"/><circle cx="737.3" cy="472.6" r="0.7"/><circle cx="740.8" cy="484.6" r="0.7"/><circle cx="744.4" cy="469.5" r="0.7"/><circle cx="747.9" cy="466.3" r="0.7"/><circle cx="751.5" cy="436.8" r="0.7"/><circle cx="755.0" cy="445.6" r="0.7"/><circle cx="758.6" cy="459.4" r="0.7"/><circle cx="762.2" cy="485.2" r="0.7"/><circle cx="765.7" cy="458.8" r="0.7"/><circle cx="769.3" cy="478.3" r="0.7"/><circle cx="772.8" cy="482.7" r="0.7"/><circle cx="776.4" cy="488.4" r="0.7"/><circle cx="779.9" cy="488.4" r="0.7"/><circle cx="783.5" cy="485.2" r="0.7"/><circle cx="787.1" cy="455.6" r="0.7"/><circle cx="790.6" cy="475.8" r="0.7"/><circle cx="794.2" cy="467.6" r="0.7"/><circle cx="797.7" cy="470.7" r="0.7"/><circle cx="801.3" cy="479.6" r="0.7"/><circle cx="804.8" cy="474.5" r="0.7"/><circle cx="808.4" cy="441.8" r="0.7"/><circle cx="812.0" cy="455.0" r="0.7"/><circle cx="815.5" cy="453.7" r="0.7"/><circle cx="819.1" cy="484.6" r="0.7"/><circle cx="822.6" cy="481.5" r="0.7"/><circle cx="826.2" cy="474.5" r="0.7"/><circle cx="829.7" cy="446.8" r="0.7"/><circle cx="833.3" cy="479.6" r="0.7"/><circle cx="836.9" cy="487.1" r="0.7"/><circle cx="840.4" cy="489.6" r="0.7"/><circle cx="844.0" cy="490.3" r="0.7"/><circle cx="847.5" cy="492.8" r="0.7"/><circle cx="851.1" cy="446.2" r="0.7"/><circle cx="854.6" cy="482.1" r="0.7"/><circle cx="858.2" cy="489.0" r="0.7"/><circle cx="861.8" cy="474.5" r="0.7"/><circle cx="865.3" cy="488.4" r="0.7"/><circle cx="868.9" cy="485.2" r="0.7"/><circle cx="872.4" cy="436.8" r="0.7"/><circle cx="876.0" cy="475.8" r="0.7"/><circle cx="879.5" cy="495.3" r="0.7"/><circle cx="883.1" cy="492.8" r="0.7"/><circle cx="886.6" cy="492.2" r="0.7"/><circle cx="890.2" cy="491.5" r="0.7"/><circle cx="893.8" cy="471.4" r="0.7"/><circle cx="897.3" cy="488.4" r="0.7"/><circle cx="900.9" cy="491.5" r="0.7"/><circle cx="904.4" cy="482.7" r="0.7"/><circle cx="908.0" cy="478.9" r="0.7"/><circle cx="911.5" cy="484.6" r="0.7"/><circle cx="915.1" cy="428.0" r="0.7"/><circle cx="918.7" cy="471.4" r="0.7"/><circle cx="922.2" cy="491.5" r="0.7"/><circle cx="925.8" cy="491.5" r="0.7"/><circle cx="929.3" cy="484.6" r="0.7"/><circle cx="932.9" cy="488.4" r="0.7"/><circle cx="936.4" cy="431.0" r="0.7"/><circle cx="940.0" cy="472.0" r="0.7"/><circle cx="943.6" cy="489.6" r="0.7"/><circle cx="947.1" cy="478.3" r="0.7"/><circle cx="950.7" cy="489.0" r="0.7"/><circle cx="954.2" cy="487.7" r="0.7"/><circle cx="957.8" cy="428.2" r="0.7"/><circle cx="961.3" cy="471.4" r="0.7"/><circle cx="964.9" cy="473.9" r="0.7"/><circle cx="968.5" cy="482.1" r="0.7"/><circle cx="972.0" cy="487.7" r="0.7"/><circle cx="975.6" cy="482.1" r="0.7"/><circle cx="979.1" cy="416.3" r="0.7"/><circle cx="982.7" cy="468.9" r="0.7"/><circle cx="986.2" cy="481.5" r="0.7"/><circle cx="989.8" cy="492.2" r="0.7"/><circle cx="993.4" cy="477.0" r="0.7"/><circle cx="996.9" cy="481.5" r="0.7"/><circle cx="1000.5" cy="418.5" r="0.7"/><circle cx="1004.0" cy="468.2" r="0.7"/><circle cx="1007.6" cy="489.6" r="0.7"/><circle cx="1011.1" cy="472.0" r="0.7"/><circle cx="1014.7" cy="485.2" r="0.7"/><circle cx="1018.2" cy="461.9" r="0.7"/><circle cx="1021.8" cy="427.9" r="0.7"/><circle cx="1025.4" cy="470.7" r="0.7"/><circle cx="1028.9" cy="487.1" r="0.7"/><circle cx="1032.5" cy="489.6" r="0.7"/><circle cx="1036.0" cy="486.5" r="0.7"/><circle cx="1039.6" cy="480.8" r="0.7"/><circle cx="1043.1" cy="423.5" r="0.7"/><circle cx="1046.7" cy="463.8" r="0.7"/><circle cx="1050.3" cy="484.6" r="0.7"/><circle cx="1053.8" cy="492.2" r="0.7"/><circle cx="1057.4" cy="485.2" r="0.7"/><circle cx="1060.9" cy="482.7" r="0.7"/><circle cx="1064.5" cy="396.5" r="0.7"/><circle cx="1068.0" cy="460.0" r="0.7"/><circle cx="1071.6" cy="449.3" r="0.7"/></g></svg>
</body></html>
